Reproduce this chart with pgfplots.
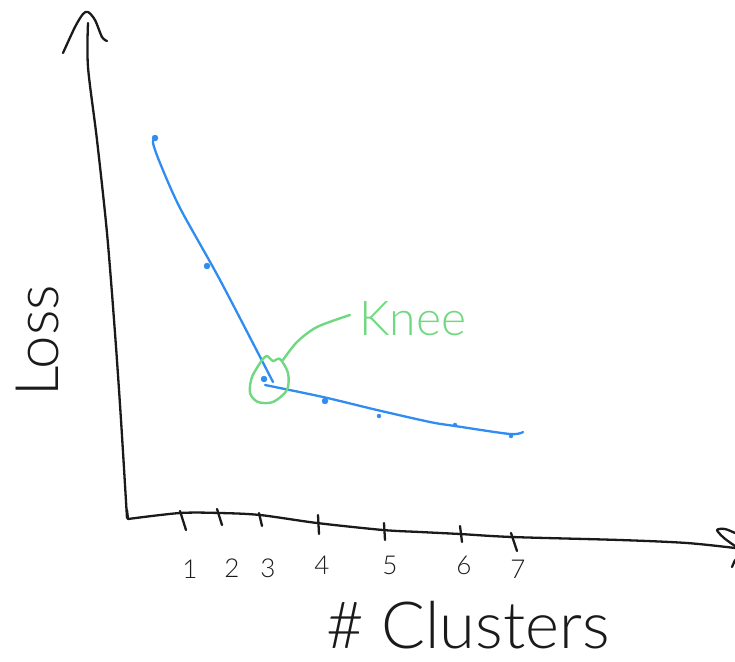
\documentclass[border=0pt]{standalone}
\usepackage{pgfplots}
\usepackage{fontspec}
\pgfplotsset{compat=1.18}
\setmainfont{Lato Light}
\definecolor{ink}{HTML}{1A1A1A}
\definecolor{lineblue}{HTML}{2F8CF0}
\definecolor{kneegreen}{HTML}{70D880}
\newcommand{\fs}[1]{\fontsize{#1}{#1}\selectfont}
\begin{document}
\begin{tikzpicture}
\begin{axis}[
  scale only axis, width=735pt, height=661pt,
  xmin=0, xmax=735, ymin=0, ymax=661, y dir=reverse,
  hide axis, clip=false,
  every axis plot/.append style={line cap=round, line join=round},
  ink stroke/.style={ink, line width=2.3pt, mark=none},
]
\coordinate (tl) at (axis cs:0,0);
\coordinate (br) at (axis cs:735,661);
% y axis
\addplot[ink stroke, smooth] coordinates {(88,23)(88,67)(97,140)(107,233)(115,333)(121,420)(127,518)};
\addplot[ink stroke, smooth] coordinates {(63,53)(75,27)(83,14)(88,12)(95,20)(102,37)(107,41)};
% x axis
\addplot[ink stroke] coordinates {(127,510)(128,519)};
\addplot[ink stroke, smooth] coordinates {(128,519)(180,513)(220,513)(260,515)(317,523)(383,530)(420,532)(460,534)(512,537)(620,540)(687,543)(735,548)};
\addplot[ink stroke, smooth] coordinates {(735,533)(725,529)(717,530)(724,538)(735,546)};
\addplot[ink stroke] coordinates {(735,560)(732,567)};
% ticks
\addplot[ink stroke] coordinates {(180,511)(186,530)};
\addplot[ink stroke] coordinates {(217,509)(222,525)};
\addplot[ink stroke] coordinates {(259,513)(262,526)};
\addplot[ink stroke] coordinates {(318,515)(319,534)};
\addplot[ink stroke] coordinates {(384,523)(385,540)};
\addplot[ink stroke] coordinates {(460,526)(462,542)};
\addplot[ink stroke] coordinates {(511,533)(517,551)};
% fitted lines
\addplot[lineblue, line width=2.3pt, smooth, mark=none] coordinates {(155,139)(153,143)(160,163)(180,208)(220,280)(273,382)};
\addplot[lineblue, line width=2.3pt, smooth, mark=none] coordinates {(265,385)(323,397)(377,410)(430,422)(455,426)(510,434)(523,432)};
% data points
\addplot[only marks, mark=*, mark size=3pt, lineblue] coordinates {(155,138)(207,266)(264,379)(325,401)};
\addplot[only marks, mark=*, mark size=2pt, lineblue] coordinates {(379,416)(455,425)(511,436)};
% knee annotation
\addplot[kneegreen, line width=2.4pt, smooth, mark=none] coordinates {(262,360)(267,356)(273,361)(280,359)(288,373)(287,390)(273,402)(258,402)(250,393)(252,377)(262,360)};
\addplot[kneegreen, line width=2.4pt, smooth, mark=none] coordinates {(283,360)(297,342)(317,327)(350,315)};
\node[anchor=base west, inner sep=0, text=kneegreen] at (axis cs:359,335) {\fs{48}Knee};
% labels
\node[anchor=base west, inner sep=0, rotate=90, text=ink] at (axis cs:58,397) {\fs{60}Loss};
\node[anchor=base west, inner sep=0, text=ink] at (axis cs:326,648) {\fs{65}\# Clusters};
\node[anchor=base, inner sep=0, text=ink] at (axis cs:190,578) {\fs{26}1};
\node[anchor=base, inner sep=0, text=ink] at (axis cs:232,577) {\fs{26}2};
\node[anchor=base, inner sep=0, text=ink] at (axis cs:268,577) {\fs{26}3};
\node[anchor=base, inner sep=0, text=ink] at (axis cs:322,574) {\fs{26}4};
\node[anchor=base, inner sep=0, text=ink] at (axis cs:390,574) {\fs{26}5};
\node[anchor=base, inner sep=0, text=ink] at (axis cs:464,574) {\fs{26}6};
\node[anchor=base, inner sep=0, text=ink] at (axis cs:518,578) {\fs{26}7};
\end{axis}
\pgfresetboundingbox
\useasboundingbox (tl) rectangle (br);
\end{tikzpicture}
\end{document}
